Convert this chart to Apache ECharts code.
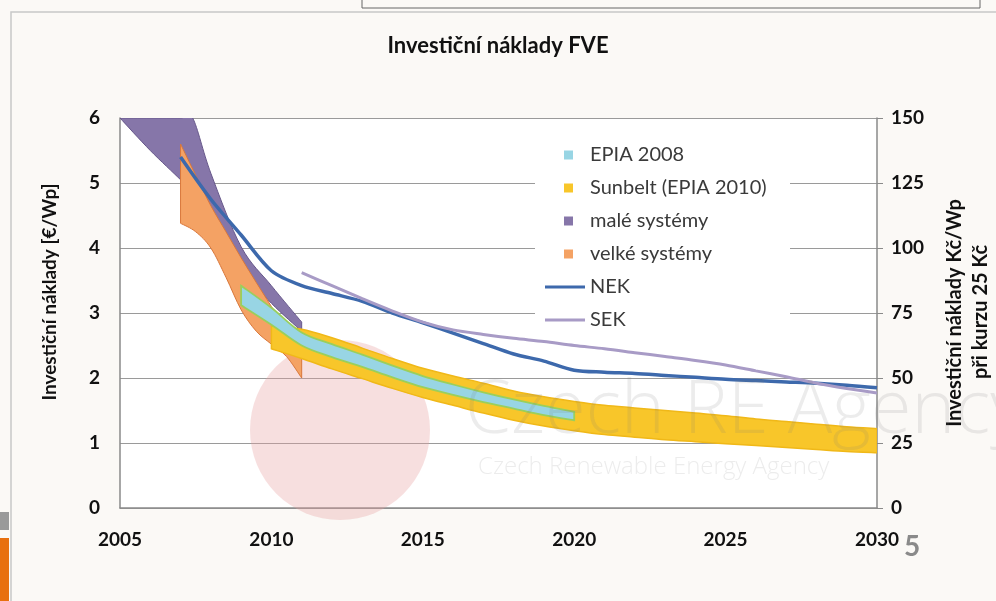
<!DOCTYPE html>
<html><head><meta charset="utf-8">
<script src="https://cdn.jsdelivr.net/npm/echarts@6/dist/echarts.min.js"></script>
<style>html,body{margin:0;padding:0;background:#fbf9f6}#c{width:996px;height:601px}</style>
</head><body><div id="c"></div><script>
// ---- data ----
const xTicks = [2005, 2010, 2015, 2020, 2025, 2030];
const leftTicks = [0, 1, 2, 3, 4, 5, 6];
const rightTicks = [0, 25, 50, 75, 100, 125, 150];

const velkeYears = [2007, 2007.5, 2008, 2008.5, 2009, 2009.5, 2010, 2010.5, 2011];
const velkeLow   = [4.38, 4.25, 4.0, 3.55, 3.05, 2.72, 2.52, 2.33, 2.0];
const velkeHigh  = [5.6, 5.12, 4.65, 4.25, 3.85, 3.47, 3.1, 2.74, 2.4];

const maleYears = [2005, 2006, 2007, 2007.4, 2008, 2009, 2010, 2011];
const maleLow   = [6.0, 5.5, 5.05, 4.85, 4.45, 3.68, 3.15, 2.72];
const maleHigh  = [6.0, 6.0, 6.0, 6.0, 5.15, 4.02, 3.42, 2.86];

const sunbeltYears = [2010, 2011, 2012, 2013, 2014, 2015, 2016, 2017, 2018, 2019, 2020,
                      2021, 2022, 2023, 2024, 2025, 2026, 2027, 2028, 2029, 2030];
const sunbeltLow  = [2.45, 2.3, 2.14, 1.99, 1.84, 1.7, 1.58, 1.46, 1.35, 1.26, 1.19,
                     1.13, 1.09, 1.05, 1.02, 0.99, 0.96, 0.93, 0.9, 0.87, 0.85];
const sunbeltHigh = [2.8, 2.75, 2.62, 2.46, 2.3, 2.15, 2.03, 1.92, 1.8, 1.71, 1.64,
                     1.58, 1.54, 1.5, 1.46, 1.42, 1.37, 1.33, 1.29, 1.25, 1.22];

const epiaYears = [2009, 2010, 2011, 2012, 2013, 2014, 2015, 2016, 2017, 2018, 2019, 2020];
const epiaLow  = [3.12, 2.82, 2.5, 2.32, 2.17, 2.01, 1.86, 1.74, 1.63, 1.53, 1.43, 1.35];
const epiaHigh = [3.42, 3.08, 2.7, 2.52, 2.36, 2.19, 2.03, 1.9, 1.78, 1.67, 1.57, 1.48];

const nekYears = [2007, 2008, 2009, 2010, 2011, 2012, 2013, 2014, 2015, 2016, 2017, 2018,
                  2019, 2020, 2021, 2022, 2023, 2024, 2025, 2026, 2027, 2028, 2029, 2030];
const nekValues = [5.4, 4.75, 4.2, 3.65, 3.42, 3.3, 3.18, 3.0, 2.85, 2.69, 2.53, 2.37,
                   2.26, 2.12, 2.09, 2.07, 2.04, 2.01, 1.98, 1.96, 1.94, 1.92, 1.89, 1.85];

const sekYears = [2011, 2012, 2013, 2014, 2015, 2016, 2017, 2018, 2019, 2020, 2021,
                  2022, 2023, 2024, 2025, 2026, 2027, 2028, 2029, 2030];
const sekValues = [3.62, 3.42, 3.22, 3.03, 2.86, 2.74, 2.67, 2.61, 2.56, 2.5, 2.45,
                   2.39, 2.33, 2.27, 2.2, 2.11, 2.02, 1.92, 1.84, 1.77];

const bandNames = ['EPIA 2008', 'Sunbelt (EPIA 2010)', 'malé systémy', 'velké systémy'];
const lineNames = ['NEK', 'SEK'];

// ---- build ----
const FONT = 'Lato, "Open Sans", sans-serif';
const col = {
  epia: '#98D5E4', epiaB: '#9ACF5C',
  sun: '#F8C62A', sunB: '#F0B818',
  male: '#8676A9', maleB: '#66578A',
  velke: '#F4A264', velkeB: '#D9773A',
  nek: '#3D69AC', sek: '#A89BC6'
};

// Catmull-Rom -> cubic bezier path through screen points (drawing only)
function curve(pts, cmd) {
  let d = cmd + pts[0][0] + ',' + pts[0][1];
  const n = pts.length;
  for (let i = 0; i < n - 1; i++) {
    const p0 = pts[Math.max(i - 1, 0)], p1 = pts[i], p2 = pts[i + 1], p3 = pts[Math.min(i + 2, n - 1)];
    const c1 = [p1[0] + (p2[0] - p0[0]) / 6, p1[1] + (p2[1] - p0[1]) / 6];
    const c2 = [p2[0] - (p3[0] - p1[0]) / 6, p2[1] - (p3[1] - p1[1]) / 6];
    d += 'C' + c1[0] + ',' + c1[1] + ' ' + c2[0] + ',' + c2[1] + ' ' + p2[0] + ',' + p2[1];
  }
  return d;
}
function band(name, years, low, high, fill, stroke, lw) {
  return {
    type: 'custom', name: name, clip: true, silent: true,
    itemStyle: { color: fill },
    encode: { x: 0, y: [1, 2] },
    data: years.map((y, i) => [y, low[i], high[i]]),
    renderItem: function (params, api) {
      if (params.dataIndex !== 0) return null;
      const up = years.map((y, i) => api.coord([y, high[i]]));
      const lo = years.map((y, i) => api.coord([y, low[i]])).reverse();
      const d = curve(up, 'M') + curve(lo, 'L') + 'Z';
      return { type: 'path', shape: { pathData: d }, style: { fill: fill, stroke: stroke, lineWidth: lw } };
    }
  };
}
const series = [
  band(bandNames[2], maleYears, maleLow, maleHigh, col.male, col.maleB, 1),
  band(bandNames[3], velkeYears, velkeLow, velkeHigh, col.velke, col.velkeB, 1),
  band(bandNames[1], sunbeltYears, sunbeltLow, sunbeltHigh, col.sun, col.sunB, 1.5),
  band(bandNames[0], epiaYears, epiaLow, epiaHigh, col.epia, col.epiaB, 1.8),
  { type: 'line', name: 'NEK', data: nekYears.map((y, i) => [y, nekValues[i]]), symbol: 'none',
    smooth: 0.3, itemStyle: { color: col.nek }, lineStyle: { color: col.nek, width: 3.5 } },
  { type: 'line', name: 'SEK', data: sekYears.map((y, i) => [y, sekValues[i]]), symbol: 'none',
    smooth: 0.3, itemStyle: { color: col.sek }, lineStyle: { color: col.sek, width: 3 } }
];

const bandColors = [col.epia, col.sun, col.male, col.velke];
const lineColors = [col.nek, col.sek];
const labelStyle = { color: '#111', fontWeight: 'bold', fontSize: 19, fontFamily: FONT };

const chart = echarts.init(document.getElementById('c'), null, { renderer: 'canvas' });
chart.setOption({
  backgroundColor: '#fbf9f6',
  animation: false,
  title: {
    text: 'Investiční náklady FVE', left: 'center', top: 30,
    textStyle: { fontSize: 22, fontWeight: 'bold', color: '#111', fontFamily: FONT }
  },
  grid: { left: 120, right: 119, top: 118, bottom: 93, show: true, backgroundColor: '#ffffff', borderWidth: 0 },
  legend: [
    { data: bandNames.map((n, i) => ({ name: n, icon: 'rect', itemStyle: { color: bandColors[i], borderWidth: 0 } })),
      orient: 'vertical', left: 564, top: 145, padding: 0, itemWidth: 9, itemHeight: 9, itemGap: 13,
      textStyle: { fontSize: 20, color: '#3a3a3a', fontFamily: FONT, lineHeight: 20, padding: [0, 0, 0, 12] } },
    { data: lineNames.map((n, i) => ({ name: n, icon: 'rect', itemStyle: { color: lineColors[i], borderWidth: 0 } })),
      orient: 'vertical', left: 545, top: 277, padding: 0, itemWidth: 40, itemHeight: 3, itemGap: 13,
      textStyle: { fontSize: 20, color: '#3a3a3a', fontFamily: FONT, lineHeight: 20 } }
  ],
  xAxis: {
    type: 'value', min: xTicks[0], max: xTicks[xTicks.length - 1], interval: xTicks[1] - xTicks[0],
    axisLine: { show: true, lineStyle: { color: '#8a8a8a', width: 1.5 } },
    axisTick: { show: false }, splitLine: { show: false },
    axisLabel: Object.assign({ margin: 22, formatter: v => String(v) }, labelStyle)
  },
  yAxis: [
    { type: 'value', position: 'left', min: leftTicks[0], max: leftTicks[leftTicks.length - 1],
      interval: leftTicks[1] - leftTicks[0],
      axisLine: { show: true, lineStyle: { color: '#8a8a8a', width: 1.5 } }, axisTick: { show: false },
      splitLine: { show: true, lineStyle: { color: '#9a9a9a', width: 1.2 } },
      axisLabel: Object.assign({ margin: 20 }, labelStyle) },
    { type: 'value', position: 'right', min: rightTicks[0], max: rightTicks[rightTicks.length - 1],
      interval: rightTicks[1] - rightTicks[0],
      axisLine: { show: true, lineStyle: { color: '#8a8a8a', width: 1.5 } },
      axisTick: { show: true, length: 6, lineStyle: { color: '#8a8a8a' } },
      splitLine: { show: false },
      axisLabel: Object.assign({ margin: 14 }, labelStyle) }
  ],
  graphic: [
    // slide frame & decorations
    { type: 'rect', z: -10, shape: { x: 11, y: 12, width: 1000, height: 620 }, style: { fill: 'none', stroke: '#c8c8c8', lineWidth: 1.5 } },
    { type: 'polyline', z: -10, shape: { points: [[362, 0], [362, 8], [980, 8], [980, 0]] }, style: { fill: 'none', stroke: '#666', lineWidth: 1 } },
    { type: 'rect', z: -10, shape: { x: 0, y: 512, width: 9, height: 18 }, style: { fill: '#9a9a9a' } },
    { type: 'rect', z: -10, shape: { x: 0, y: 538, width: 9, height: 63 }, style: { fill: '#E8700F' } },
    { type: 'text', z: 10, x: 912, y: 547, style: { text: '5', fontSize: 28, fontWeight: 'bold', fill: '#8a8a8a', fontFamily: FONT, align: 'center', verticalAlign: 'middle' } },
    // legend background
    { type: 'rect', z: 1, shape: { x: 535, y: 135, width: 255, height: 195 }, style: { fill: '#ffffff' } },
    // watermark
    { type: 'circle', z: 1, shape: { cx: 340, cy: 430, r: 90 }, style: { fill: 'rgba(232,160,160,0.34)' } },
    { type: 'text', z: 50, x: 465, y: 412, style: { text: 'Czech RE Agency', fontSize: 74, fill: 'rgba(120,120,120,0.14)', fontFamily: '"Open Sans", sans-serif', fontWeight: 300, verticalAlign: 'middle' } },
    { type: 'text', z: 50, x: 478, y: 467, style: { text: 'Czech Renewable Energy Agency', fontSize: 24, fill: 'rgba(120,120,120,0.14)', fontFamily: '"Open Sans", sans-serif', fontWeight: 300, verticalAlign: 'middle' } },
    // axis names
    { type: 'text', z: 10, x: 50, y: 292, rotation: Math.PI / 2, style: { text: 'Investiční náklady [€/Wp]', fontSize: 19, fontWeight: 'bold', fill: '#111', fontFamily: FONT, align: 'center', verticalAlign: 'middle' } },
    { type: 'text', z: 10, x: 955, y: 313, rotation: Math.PI / 2, style: { text: 'Investiční náklady Kč/Wp', fontSize: 20, fontWeight: 'bold', fill: '#111', fontFamily: FONT, align: 'center', verticalAlign: 'middle' } },
    { type: 'text', z: 10, x: 981, y: 312, rotation: Math.PI / 2, style: { text: 'při kurzu 25 Kč', fontSize: 20, fontWeight: 'bold', fill: '#111', fontFamily: FONT, align: 'center', verticalAlign: 'middle' } }
  ],
  series: series
});
</script></body></html>
